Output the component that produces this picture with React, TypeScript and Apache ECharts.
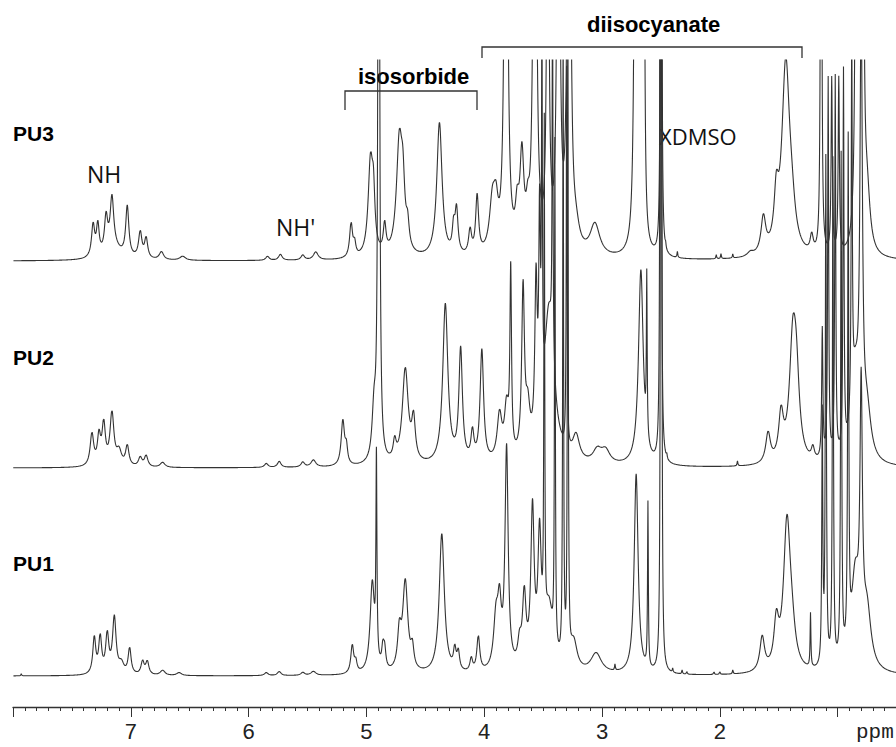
import React, { useEffect, useRef } from "react";
import * as echarts from "echarts";

// Peak tables: [ppm, height above the trace baseline (px), half-width (ppm)]
type Peak = [number, number, number];

const PU3_PEAKS: Peak[] = [
  [7.32, 32, 0.016], [7.28, 30, 0.014], [7.21, 34, 0.016], [7.16, 50, 0.018], [7.15, 12, 0.08],
  [7.03, 50, 0.016], [6.92, 26, 0.017], [6.87, 20, 0.016], [6.74, 8, 0.022], [6.56, 4, 0.03],
  [5.84, 4, 0.018], [5.73, 6, 0.018], [5.54, 5, 0.018], [5.43, 8, 0.024],
  [5.13, 34, 0.015], [5.1, 12, 0.012], [4.965, 95, 0.024], [4.94, 45, 0.014], [4.845, 28, 0.014],
  [4.72, 115, 0.03], [4.69, 50, 0.018], [4.65, 22, 0.015], [4.38, 135, 0.027],
  [4.26, 24, 0.013], [4.235, 44, 0.015], [4.12, 24, 0.015], [4.06, 58, 0.015],
  [3.93, 50, 0.03], [3.9, 35, 0.022], [3.815, 800, 0.012], [3.72, 35, 0.018], [3.68, 90, 0.02],
  [3.63, 28, 0.018], [3.57, 800, 0.012], [3.46, 500, 0.01], [3.37, 800, 0.01], [3.28, 800, 0.012],
  [3.22, 18, 0.035], [3.06, 32, 0.05], [2.715, 700, 0.01], [2.68, 500, 0.01], [2.645, 500, 0.007],
  [2.5, 800, 0.004], [2.495, 600, 0.003], [2.46, 4, 0.004], [2.36, 6, 0.004],
  [2.03, 4, 0.004], [1.99, 5, 0.004], [1.89, 4, 0.004], [1.74, 4, 0.03],
  [1.63, 36, 0.024], [1.52, 48, 0.022], [1.44, 190, 0.04], [1.39, 28, 0.035], [1.22, 17, 0.015],
  [1.14, 800, 0.005], [1.05, 175, 0.006], [0.99, 175, 0.006],
  [0.84, 800, 0.008], [0.81, 800, 0.008], [0.785, 500, 0.008], [0.75, 55, 0.03],
];

const PU2_PEAKS: Peak[] = [
  [7.33, 32, 0.018], [7.27, 28, 0.016], [7.23, 40, 0.017], [7.16, 52, 0.02], [7.1, 14, 0.025],
  [7.03, 20, 0.017], [6.92, 9, 0.018], [6.87, 11, 0.018], [6.73, 5, 0.024],
  [5.85, 4, 0.018], [5.74, 6, 0.018], [5.54, 5, 0.018], [5.45, 7, 0.024],
  [5.2, 45, 0.017], [5.17, 16, 0.012], [4.935, 50, 0.02], [4.895, 1000, 0.007],
  [4.76, 18, 0.015], [4.67, 95, 0.03], [4.6, 40, 0.018], [4.33, 160, 0.026],
  [4.2, 112, 0.018], [4.1, 28, 0.015], [4.02, 112, 0.018],
  [3.87, 45, 0.024], [3.81, 50, 0.022], [3.775, 180, 0.008], [3.67, 165, 0.014], [3.63, 42, 0.022],
  [3.56, 155, 0.012], [3.53, 200, 0.008], [3.51, 380, 0.004], [3.42, 380, 0.004], [3.3, 380, 0.004],
  [3.45, 150, 0.05], [3.22, 25, 0.035], [3.04, 13, 0.045], [2.97, 13, 0.045],
  [2.67, 195, 0.024], [2.62, 160, 0.004], [2.5, 1500, 0.003], [2.505, 800, 0.003],
  [2.45, 4, 0.004], [1.85, 5, 0.004],
  [1.59, 30, 0.024], [1.48, 45, 0.024], [1.38, 115, 0.035], [1.35, 65, 0.03], [1.21, 12, 0.015],
  [1.13, 130, 0.006], [1.08, 380, 0.005], [1.02, 380, 0.005], [0.95, 380, 0.005],
  [0.88, 380, 0.005], [0.85, 80, 0.04], [0.8, 420, 0.012], [0.75, 45, 0.04],
];

const PU1_PEAKS: Peak[] = [
  [7.93, 2, 0.004],
  [7.31, 36, 0.015], [7.26, 36, 0.015], [7.2, 38, 0.016], [7.14, 56, 0.018], [7.08, 10, 0.025],
  [7.01, 26, 0.015], [6.9, 13, 0.016], [6.86, 13, 0.016], [6.73, 5, 0.024], [6.59, 3, 0.024],
  [5.85, 3, 0.018], [5.74, 4, 0.018], [5.54, 3, 0.018], [5.45, 4, 0.024],
  [5.12, 28, 0.015], [5.09, 10, 0.012], [4.95, 90, 0.022], [4.915, 200, 0.005],
  [4.86, 20, 0.012], [4.845, 18, 0.012], [4.72, 36, 0.018], [4.67, 90, 0.026], [4.61, 20, 0.015],
  [4.36, 140, 0.026], [4.25, 20, 0.013], [4.22, 18, 0.013], [4.11, 13, 0.013], [4.05, 35, 0.015],
  [3.9, 50, 0.024], [3.87, 55, 0.018], [3.81, 220, 0.016], [3.7, 22, 0.018], [3.66, 70, 0.018],
  [3.59, 155, 0.017], [3.53, 125, 0.017], [3.49, 505, 0.004], [3.4, 505, 0.004],
  [3.33, 650, 0.004], [3.29, 700, 0.004], [3.45, 60, 0.04], [3.24, 28, 0.035], [3.05, 20, 0.055],
  [2.89, 6, 0.004], [2.71, 200, 0.02], [2.61, 165, 0.004], [2.5, 1500, 0.003], [2.495, 900, 0.003],
  [2.4, 4, 0.004], [2.32, 4, 0.004], [2.28, 3, 0.004], [2.05, 3, 0.004], [2.0, 3, 0.004], [1.89, 4, 0.004],
  [1.64, 34, 0.024], [1.52, 44, 0.024], [1.43, 145, 0.035], [1.39, 28, 0.035], [1.23, 54, 0.004],
  [1.13, 250, 0.005], [1.1, 505, 0.005], [1.04, 505, 0.005], [0.97, 505, 0.005],
  [0.91, 505, 0.005], [0.85, 90, 0.04], [0.8, 250, 0.012], [0.75, 55, 0.04],
];

const SAMPLE_NAMES = ["PU3", "PU2", "PU1"];
const X_TICK_LABELS = [2, 3, 4, 5, 6, 7];
const AXIS_UNIT = "ppm";
const REGION_LABELS = { iso: "isosorbide", diiso: "diisocyanate", nh: "NH", nh2: "NH'", dmso: "XDMSO" };

const PPM_LO = 0.5;
const PPM_HI = 8.0;

function buildGrid(): number[] {
  const set = new Set<number>();
  for (let i = 0; i <= Math.round((PPM_HI - PPM_LO) / 0.002); i++) {
    set.add(+(PPM_LO + i * 0.002).toFixed(4));
  }
  for (const list of [PU3_PEAKS, PU2_PEAKS, PU1_PEAKS]) {
    for (const [c, , w] of list) {
      set.add(c);
      set.add(+(c - w * 0.5).toFixed(5));
      set.add(+(c + w * 0.5).toFixed(5));
    }
  }
  return Array.from(set).filter((x) => x >= PPM_LO && x <= PPM_HI).sort((a, b) => a - b);
}

function spectrum(peaks: Peak[], offset: number, xs: number[]) {
  return xs.map((x) => {
    let s = 0;
    for (const [c, h, w] of peaks) {
      const d = (x - c) / w;
      s += h / (1 + d * d);
    }
    return [x, offset + s];
  });
}

export default function App() {
  const ref = useRef<HTMLDivElement>(null);
  useEffect(() => {
    if (!ref.current) return;
    const chart = echarts.init(ref.current, null, { renderer: "svg" });
    const xs = buildGrid();
    // baseline offsets in y units (grid bottom at y=707, 1 unit = 1px)
    const offsets = [446, 239, 31];
    const peakSets = [PU3_PEAKS, PU2_PEAKS, PU1_PEAKS];
    const lineColor = "#333";
    const series = SAMPLE_NAMES.map((name, i) => ({
      type: "line" as const,
      name,
      data: spectrum(peakSets[i], offsets[i], xs),
      showSymbol: false,
      symbol: "none",
      clip: true,
      lineStyle: { color: lineColor, width: 1.1 },
      z: 3 - i,
    }));
    const labelFont = "Liberation Sans, Arial, sans-serif";
    const openFont = "'Open Sans', 'Noto Sans', sans-serif";
    chart.setOption({
      animation: false,
      backgroundColor: "#ffffff",
      grid: { left: 13, top: 60, width: 942.4, height: 647, containLabel: false, outerBoundsMode: "none" },
      xAxis: {
        type: "value",
        min: 0,
        max: 8,
        interval: 1,
        inverse: true,
        axisLine: { show: true, onZero: false, lineStyle: { color: "#333", width: 1.3 } },
        axisTick: { show: true, inside: false, length: 10, lineStyle: { color: "#333", width: 1 } },
        minorTick: { show: true, splitNumber: 10, length: 4, lineStyle: { color: "#333", width: 1 } },
        splitLine: { show: false },
        minorSplitLine: { show: false },
        axisLabel: {
          margin: 15,
          fontFamily: "'Liberation Mono', monospace",
          fontSize: 22,
          color: "#222",
          formatter: (v: number) => (X_TICK_LABELS.includes(v) ? String(v) : ""),
        },
      },
      yAxis: { type: "value", min: 0, max: 647, show: false },
      series,
      graphic: [
        { type: "text", left: 13, top: 123, style: { text: SAMPLE_NAMES[0], font: `bold 21px ${labelFont}`, fill: "#000" } },
        { type: "text", left: 13, top: 347, style: { text: SAMPLE_NAMES[1], font: `bold 21px ${labelFont}`, fill: "#000" } },
        { type: "text", left: 13, top: 553, style: { text: SAMPLE_NAMES[2], font: `bold 21px ${labelFont}`, fill: "#000" } },
        { type: "text", left: 87, top: 162, style: { text: REGION_LABELS.nh, font: `23px ${openFont}`, fill: "#111" } },
        { type: "text", left: 276, top: 215, style: { text: REGION_LABELS.nh2, font: `23px ${openFont}`, fill: "#111" } },
        { type: "text", left: 358, top: 65, style: { text: REGION_LABELS.iso, font: `bold 22px ${labelFont}`, fill: "#000" } },
        { type: "text", left: 587, top: 13, style: { text: REGION_LABELS.diiso, font: `bold 22px ${labelFont}`, fill: "#000" } },
        { type: "text", left: 659, top: 125, style: { text: REGION_LABELS.dmso, font: `22px ${openFont}`, fill: "#111" } },
        { type: "text", left: 856, top: 722, style: { text: AXIS_UNIT, font: `21px 'Liberation Mono', monospace`, fill: "#222" } },
        {
          type: "polyline",
          shape: { points: [[345, 110], [345, 91], [477, 91], [477, 110]] },
          style: { stroke: "#333", lineWidth: 1.3, fill: "none" },
        },
        {
          type: "polyline",
          shape: { points: [[482, 58], [482, 47], [802, 47], [802, 58]] },
          style: { stroke: "#333", lineWidth: 1.3, fill: "none" },
        },
      ],
    });
    return () => chart.dispose();
  }, []);
  return (
    <div
      ref={ref}
      style={{ position: "absolute", left: 0, top: 0, width: 896, height: 747, background: "#fff" }}
    />
  );
}
